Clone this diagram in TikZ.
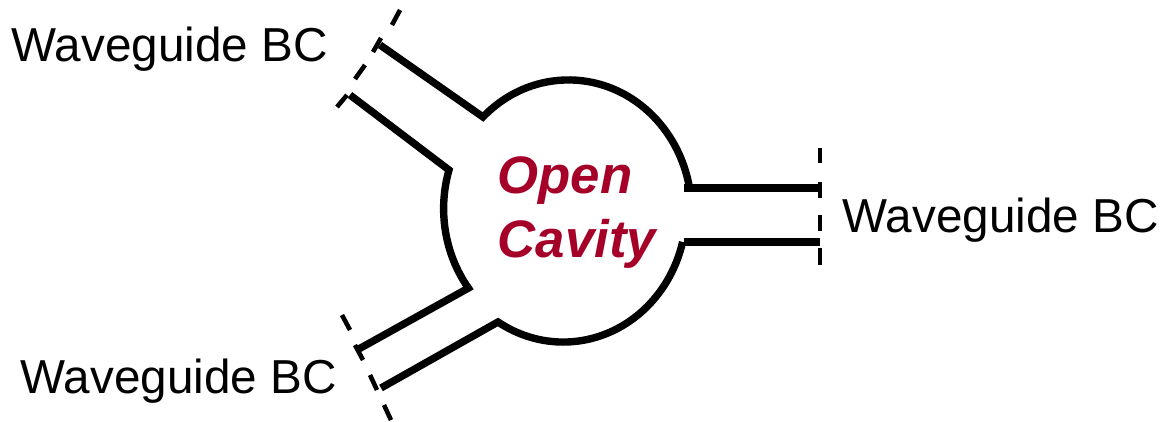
\documentclass[tikz,border=0pt]{standalone}
\usepackage{fontspec}
\setmainfont{Liberation Sans}
\definecolor{cavred}{RGB}{165,0,40}
\tikzset{
  wall/.style={line width=2.1pt,line join=miter,line cap=butt,black},
  portdash/.style={line width=1.3pt,black},
  bclabel/.style={font=\fontsize{13.55pt}{15pt}\selectfont,inner sep=0pt,anchor=base west},
  cavlabel/.style={font=\fontsize{15pt}{17pt}\selectfont\bfseries\itshape,text=cavred,inner sep=0pt,anchor=base west}
}
\begin{document}
\begin{tikzpicture}[x=0.01cm,y=-0.01cm]
\useasboundingbox (0,0) rectangle (1163,422);
% junctions
\coordinate (tua) at (380,45);
\coordinate (tub) at (483,117);
\coordinate (tla) at (350,95);
\coordinate (tlb) at (449,170);
\coordinate (bua) at (357,350);
\coordinate (bla) at (381,388);
\coordinate (blb) at (498,322);
\coordinate (rua) at (820,188);
\coordinate (rub) at (684,188);
\coordinate (rla) at (820,242);
\coordinate (rlb) at (684,242);
% waveguide walls joined to the cavity arcs
\draw[wall] (tua) -- (tub) arc[x radius=1.23cm,y radius=1.32cm,start angle=134,end angle=9];
\draw[wall] (tla) -- (tlb) arc[x radius=1.23cm,y radius=1.32cm,start angle=163,end angle=217] -- (bua);
\draw[wall] (bla) -- (blb) arc[x radius=1.23cm,y radius=1.32cm,start angle=238,end angle=346];
\draw[wall] (rua) -- (rub);
\draw[wall] (rla) -- (rlb);
% port dashes
\draw[portdash] (400,10) -- (392,25);
\draw[portdash] (381,38) -- (373,52);
\draw[portdash] (365,65) -- (355,79);
\draw[portdash] (347,95) -- (337,107);
\draw[portdash] (342,315) -- (350,330);
\draw[portdash] (355,345) -- (363,360);
\draw[portdash] (370,375) -- (377,390);
\draw[portdash] (384,405) -- (391,420);
\draw[portdash] (820,148) -- (820,163);
\draw[portdash] (820,182) -- (820,198);
\draw[portdash] (820,215) -- (820,231);
\draw[portdash] (820,248) -- (820,265);
% labels
\node[bclabel] (l1) at (11,62) {Waveguide BC};
\node[bclabel] (l2) at (20,394) {Waveguide BC};
\node[bclabel] (l3) at (842,233) {Waveguide BC};
\node[cavlabel] (c1) at (497,194) {Open};
\node[cavlabel] (c2) at (497,258) {Cavity};
\end{tikzpicture}
\end{document}
